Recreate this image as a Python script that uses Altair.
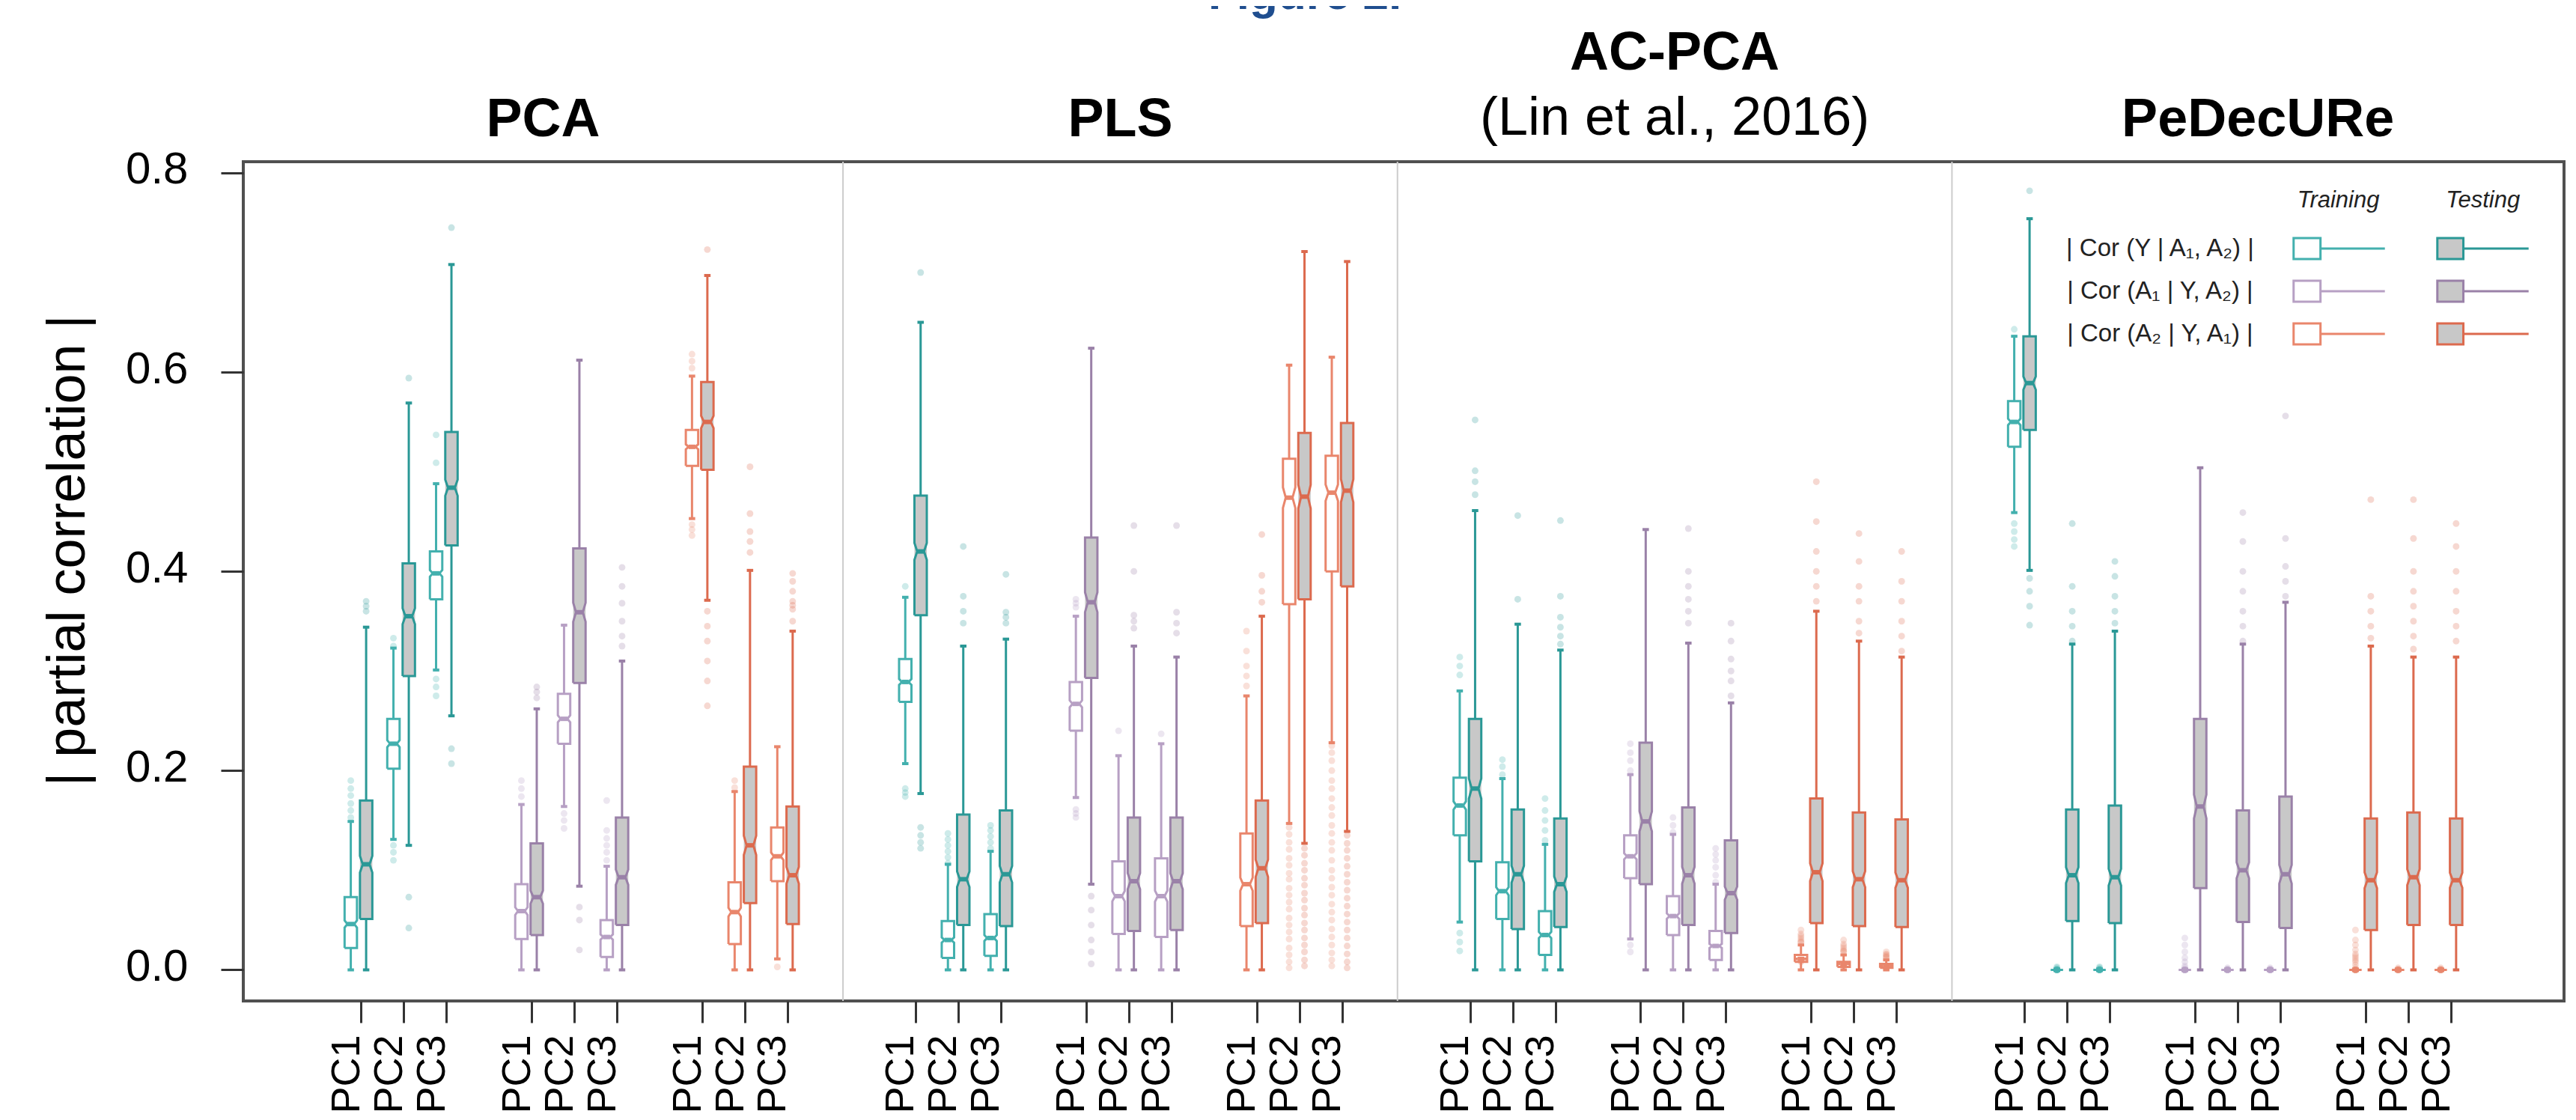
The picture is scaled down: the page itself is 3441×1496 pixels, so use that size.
import math
import altair as alt
import pandas as pd

# ---------------- data ----------------
METHODS = ["PCA", "PLS", "AC-PCA", "PeDecURe"]
SUBTITLES = ["", "", "(Lin et al., 2016)", ""]
COMPONENTS = ["PC1", "PC2", "PC3"]
GROUP_LABELS = ["| Cor (Y | A₁, A₂) |", "| Cor (A₁ | Y, A₂) |", "| Cor (A₂ | Y, A₁) |"]
SPLITS = ["Training", "Testing"]
Y_TICKS = [0.0, 0.2, 0.4, 0.6, 0.8]

# each row: lower whisker, Q1, median, Q3, upper whisker
# order: group1 PC1..PC3, group2 PC1..PC3, group3 PC1..PC3
PCA_TRAIN = [
    [0.000, 0.022, 0.046, 0.073, 0.149], [0.131, 0.202, 0.227, 0.252, 0.323], [0.301, 0.372, 0.398, 0.420, 0.488],
    [0.000, 0.031, 0.059, 0.086, 0.166], [0.164, 0.227, 0.252, 0.277, 0.346], [0.000, 0.013, 0.033, 0.050, 0.104],
    [0.453, 0.506, 0.525, 0.542, 0.596], [0.000, 0.026, 0.058, 0.088, 0.179], [0.011, 0.089, 0.114, 0.143, 0.224],
]
PCA_TEST = [
    [0.000, 0.051, 0.106, 0.170, 0.344], [0.125, 0.295, 0.355, 0.408, 0.569], [0.255, 0.426, 0.484, 0.540, 0.708],
    [0.000, 0.035, 0.073, 0.127, 0.262], [0.084, 0.288, 0.359, 0.423, 0.612], [0.000, 0.045, 0.093, 0.153, 0.310],
    [0.371, 0.502, 0.550, 0.590, 0.697], [0.000, 0.067, 0.125, 0.204, 0.401], [0.000, 0.046, 0.095, 0.164, 0.340],
]
PLS_TRAIN = [
    [0.207, 0.269, 0.289, 0.312, 0.374], [0.000, 0.012, 0.030, 0.049, 0.106], [0.000, 0.014, 0.032, 0.056, 0.119],
    [0.173, 0.240, 0.267, 0.289, 0.355], [0.000, 0.036, 0.074, 0.109, 0.215], [0.000, 0.033, 0.074, 0.112, 0.227],
    [0.000, 0.044, 0.086, 0.137, 0.275], [0.147, 0.367, 0.474, 0.513, 0.607], [0.228, 0.400, 0.479, 0.516, 0.615],
]
PLS_TEST = [
    [0.177, 0.356, 0.420, 0.476, 0.650], [0.000, 0.045, 0.091, 0.156, 0.325], [0.000, 0.044, 0.096, 0.160, 0.332],
    [0.086, 0.293, 0.369, 0.434, 0.624], [0.000, 0.039, 0.089, 0.153, 0.325], [0.000, 0.040, 0.089, 0.153, 0.314],
    [0.000, 0.047, 0.102, 0.170, 0.355], [0.127, 0.372, 0.475, 0.539, 0.721], [0.139, 0.385, 0.481, 0.549, 0.711],
]
AC_TRAIN = [
    [0.048, 0.135, 0.165, 0.193, 0.280], [0.000, 0.051, 0.079, 0.108, 0.192], [0.000, 0.015, 0.035, 0.059, 0.126],
    [0.031, 0.092, 0.114, 0.135, 0.196], [0.000, 0.035, 0.054, 0.074, 0.136], [0.000, 0.010, 0.024, 0.039, 0.086],
    [0.000, 0.008, 0.011, 0.015, 0.025], [0.000, 0.003, 0.006, 0.008, 0.015], [0.000, 0.002, 0.004, 0.006, 0.010],
]
AC_TEST = [
    [0.000, 0.109, 0.182, 0.252, 0.461], [0.000, 0.041, 0.096, 0.161, 0.347], [0.000, 0.043, 0.086, 0.152, 0.321],
    [0.000, 0.086, 0.149, 0.228, 0.442], [0.000, 0.045, 0.095, 0.163, 0.328], [0.000, 0.037, 0.077, 0.130, 0.268],
    [0.000, 0.047, 0.098, 0.172, 0.360], [0.000, 0.044, 0.091, 0.158, 0.330], [0.000, 0.043, 0.090, 0.151, 0.314],
]
PED_TRAIN = [
    [0.459, 0.525, 0.550, 0.571, 0.636], [0.0, 0.0, 0.0, 0.0, 0.0], [0.0, 0.0, 0.0, 0.0, 0.0],
    [0.0, 0.0, 0.0, 0.0, 0.0], [0.0, 0.0, 0.0, 0.0, 0.0], [0.0, 0.0, 0.0, 0.0, 0.0],
    [0.0, 0.0, 0.0, 0.0, 0.0], [0.0, 0.0, 0.0, 0.0, 0.0], [0.0, 0.0, 0.0, 0.0, 0.0],
]
PED_TEST = [
    [0.401, 0.542, 0.589, 0.636, 0.754], [0.000, 0.049, 0.095, 0.161, 0.327], [0.000, 0.047, 0.093, 0.165, 0.340],
    [0.000, 0.082, 0.164, 0.252, 0.504], [0.000, 0.048, 0.100, 0.160, 0.327], [0.000, 0.042, 0.096, 0.174, 0.369],
    [0.000, 0.040, 0.090, 0.152, 0.325], [0.000, 0.045, 0.093, 0.158, 0.314], [0.000, 0.045, 0.090, 0.152, 0.314],
]

# outlying points
PCA_TRAIN_OUT = [
    [0.153, 0.160, 0.167, 0.175, 0.182, 0.190], [0.325, 0.333, 0.125, 0.118, 0.110], [0.509, 0.537, 0.292, 0.284, 0.275],
    [0.174, 0.182, 0.190], [0.157, 0.150, 0.142], [0.110, 0.118, 0.125, 0.132, 0.140, 0.170],
    [0.604, 0.611, 0.618, 0.447, 0.442, 0.436], [0.183, 0.190], [0.003],
]
PCA_TEST_OUT = [
    [0.360, 0.365, 0.370], [0.594, 0.073, 0.042], [0.745, 0.222, 0.207],
    [0.273, 0.279, 0.284], [0.063, 0.050, 0.020], [0.325, 0.335, 0.350, 0.368, 0.385, 0.404],
    [0.723, 0.360, 0.345, 0.330, 0.310, 0.290, 0.265], [0.419, 0.430, 0.440, 0.458, 0.505],
    [0.350, 0.362, 0.366, 0.370, 0.380, 0.390, 0.398],
]
PLS_TRAIN_OUT = [
    [0.385, 0.182, 0.178, 0.174], [0.107, 0.113, 0.119, 0.125, 0.131, 0.137], [0.122, 0.128, 0.134, 0.140, 0.145],
    [0.364, 0.368, 0.372, 0.161, 0.157, 0.153], [0.240], [0.237],
    [0.285, 0.295, 0.305, 0.320, 0.340],
    [0.143, 0.136, 0.128, 0.121, 0.112, 0.105, 0.097, 0.091, 0.082, 0.075, 0.068, 0.061, 0.052, 0.045,
     0.038, 0.031, 0.022, 0.015, 0.008, 0.002],
    [0.225, 0.218, 0.210, 0.200, 0.190, 0.182, 0.172, 0.163, 0.155, 0.145, 0.137, 0.128, 0.120, 0.110,
     0.100, 0.092, 0.083, 0.075, 0.066, 0.058, 0.050, 0.041, 0.033, 0.025, 0.017, 0.010, 0.004],
]
PLS_TEST_OUT = [
    [0.700, 0.143, 0.135, 0.128, 0.122], [0.348, 0.360, 0.375, 0.425], [0.348, 0.354, 0.359, 0.397],
    [0.074, 0.060, 0.045, 0.030, 0.018, 0.006], [0.343, 0.350, 0.356, 0.400, 0.446], [0.338, 0.348, 0.359, 0.446],
    [0.369, 0.380, 0.396, 0.437],
    [0.122, 0.115, 0.107, 0.100, 0.092, 0.085, 0.077, 0.070, 0.062, 0.055, 0.047, 0.040, 0.032, 0.025,
     0.018, 0.010, 0.004],
    [0.135, 0.127, 0.120, 0.112, 0.104, 0.096, 0.088, 0.080, 0.072, 0.064, 0.056, 0.048, 0.040, 0.032,
     0.024, 0.016, 0.008, 0.002],
]
AC_TRAIN_OUT = [
    [0.296, 0.305, 0.314, 0.037, 0.028, 0.019], [0.196, 0.204, 0.211], [0.130, 0.140, 0.150, 0.160, 0.172],
    [0.200, 0.210, 0.218, 0.227, 0.025, 0.018], [0.138, 0.145, 0.153], [0.088, 0.095, 0.103, 0.110, 0.116, 0.122],
    [0.028, 0.028, 0.030, 0.032, 0.034, 0.036, 0.040, 0.012, 0.011, 0.010, 0.009, 0.008],
    [0.018, 0.019, 0.020, 0.022, 0.024, 0.026, 0.030, 0.006, 0.005, 0.004],
    [0.012, 0.013, 0.014, 0.015, 0.016, 0.018, 0.004, 0.003, 0.002],
]
AC_TEST_OUT = [
    [0.477, 0.490, 0.501, 0.552], [0.372, 0.456], [0.327, 0.335, 0.344, 0.354, 0.375, 0.451],
    [], [0.348, 0.360, 0.372, 0.385, 0.400, 0.443], [0.275, 0.290, 0.300, 0.312, 0.330, 0.348],
    [0.370, 0.385, 0.400, 0.420, 0.450, 0.490], [0.338, 0.350, 0.370, 0.385, 0.410, 0.438],
    [0.320, 0.335, 0.350, 0.370, 0.390, 0.420],
]
PED_TRAIN_OUT = [
    [0.643, 0.448, 0.440, 0.432, 0.425],
    [0.0, 0.0, 0.0, 0.0, 0.0, 0.0, 0.0, 0.001, 0.002, 0.003],
    [0.0, 0.0, 0.0, 0.0, 0.0, 0.0, 0.0, 0.001, 0.002, 0.003],
    [0.0, 0.0, 0.0, 0.0, 0.0, 0.0, 0.0, 0.002, 0.004, 0.008, 0.012, 0.018, 0.025, 0.032],
    [0.0, 0.0, 0.0, 0.0, 0.0, 0.0, 0.0, 0.001, 0.002],
    [0.0, 0.0, 0.0, 0.0, 0.0, 0.0, 0.0, 0.001, 0.002],
    [0.0, 0.0, 0.0, 0.0, 0.0, 0.0, 0.0, 0.002, 0.005, 0.008, 0.010, 0.012, 0.014, 0.016, 0.020, 0.025, 0.030, 0.040],
    [0.0, 0.0, 0.0, 0.0, 0.0, 0.0, 0.0, 0.001, 0.002],
    [0.0, 0.0, 0.0, 0.0, 0.0, 0.0, 0.0, 0.001, 0.002],
]
PED_TEST_OUT = [
    [0.782, 0.393, 0.380, 0.365, 0.346], [0.330, 0.345, 0.360, 0.385, 0.448], [0.348, 0.360, 0.375, 0.395, 0.410],
    [], [0.330, 0.345, 0.360, 0.380, 0.400, 0.430, 0.459], [0.375, 0.390, 0.405, 0.433, 0.556],
    [0.333, 0.345, 0.360, 0.375, 0.472], [0.322, 0.335, 0.350, 0.365, 0.380, 0.400, 0.433, 0.472],
    [0.330, 0.345, 0.360, 0.380, 0.400, 0.425, 0.448],
]

STATS = {
    ("PCA", "Training"): (PCA_TRAIN, PCA_TRAIN_OUT), ("PCA", "Testing"): (PCA_TEST, PCA_TEST_OUT),
    ("PLS", "Training"): (PLS_TRAIN, PLS_TRAIN_OUT), ("PLS", "Testing"): (PLS_TEST, PLS_TEST_OUT),
    ("AC-PCA", "Training"): (AC_TRAIN, AC_TRAIN_OUT), ("AC-PCA", "Testing"): (AC_TEST, AC_TEST_OUT),
    ("PeDecURe", "Training"): (PED_TRAIN, PED_TRAIN_OUT), ("PeDecURe", "Testing"): (PED_TEST, PED_TEST_OUT),
}

# ---------------- styling ----------------
TRAIN_COL = ["#43b0ae", "#b7a0c4", "#e9866c"]
TEST_COL = ["#2a9896", "#9a81a8", "#dc6a4e"]
GRAY = "#c8c8c8"
FONT = "Liberation Sans"
HALF = 0.145
OFFSET = {"Training": -0.24, "Testing": 0.12}
N_SIM = 500
X_DOM = [-2.76, 51.65]
Y_DOM = [-0.0312, 0.8112]
SEPS = [11.3, 24.3, 37.3]
W, H = 3100, 1121

XS = alt.Scale(domain=X_DOM, nice=False, zero=False)
YS = alt.Scale(domain=Y_DOM, nice=False, zero=False)

rect_rows, poly_rows, seg_rows, staple_rows, med_rows, out_rows = [], [], [], [], [], []
TICKS = []
for p, m in enumerate(METHODS):
    for g in range(3):
        for k in range(3):
            TICKS.append(13 * p + 4 * g + k)
    for s in SPLITS:
        stats, outs = STATS[(m, s)]
        for g in range(3):
            for k in range(3):
                i = 3 * g + k
                lw, q1, med, q3, uw = stats[i]
                cx = 13 * p + 4 * g + k + OFFSET[s]
                col = TRAIN_COL[g] if s == "Training" else TEST_COL[g]
                fill = "#ffffff" if s == "Training" else GRAY
                bid = f"{m}|{g}|{k}|{s}"
                n = min(1.58 * (q3 - q1) / math.sqrt(N_SIM), med - q1, q3 - med)
                w, wn = HALF, HALF * 0.55
                rect_rows.append(dict(x=cx - w, x2=cx + w, y=q1, y2=q3, fill=fill))
                pts = [(cx - w, q1), (cx + w, q1), (cx + w, med - n), (cx + wn, med), (cx + w, med + n),
                       (cx + w, q3), (cx - w, q3), (cx - w, med + n), (cx - wn, med), (cx - w, med - n),
                       (cx - w, q1)]
                for j, (px, py) in enumerate(pts):
                    poly_rows.append(dict(id=bid, o=j, x=px, y=py, color=col))
                seg_rows.append(dict(x=cx, y=lw, y2=q1, color=col))
                seg_rows.append(dict(x=cx, y=q3, y2=uw, color=col))
                for e in (lw, uw):
                    staple_rows.append(dict(x=cx - 0.075, x2=cx + 0.075, y=e, color=col))
                med_rows.append(dict(x=cx - wn, x2=cx + wn, y=med, color=col))
                for v in outs[i]:
                    out_rows.append(dict(x=cx, y=v, color=col))

C = lambda f: alt.Color(f, scale=None)
X = lambda f: alt.X(f, scale=XS)
Y = lambda f: alt.Y(f, scale=YS)

whiskers = alt.Chart(pd.DataFrame(seg_rows)).mark_rule(strokeWidth=3).encode(
    x=alt.X("x:Q", scale=XS, title="",
            axis=alt.Axis(values=TICKS, labelExpr="'PC' + ((round(datum.value) % 13) % 4 + 1)",
                          labelAngle=270, labelAlign="right", labelBaseline="alphabetic",
                          labelPadding=16, labelOffset=-3, tickSize=29, labelFontSize=54,
                          labelFlush=False, labelOverlap=False, labelBound=False)),
    y=alt.Y("y:Q", scale=YS, title="| partial correlation |",
            axis=alt.Axis(values=Y_TICKS, format=".1f", tickSize=30, labelFontSize=60, labelPadding=44,
                          labelOffset=-4, labelFlush=False, labelOverlap=False,
                          titleFontSize=72, titleAngle=270, titleX=-235, titleY=519,
                          titleAlign="center", titleBaseline="middle", titleFontWeight="normal")),
    y2="y2:Q",
    color=C("color:N"),
)

seps = alt.Chart(pd.DataFrame({"x": SEPS})).mark_rule(color="#cccccc", strokeWidth=2).encode(
    x=X("x:Q"), y=alt.value(0), y2=alt.value(H))

points = alt.Chart(pd.DataFrame(out_rows)).mark_circle(size=80, opacity=0.26).encode(
    x=X("x:Q"), y=Y("y:Q"), color=C("color:N"))

staples = alt.Chart(pd.DataFrame(staple_rows)).mark_rule(strokeWidth=4).encode(
    x=X("x:Q"), x2="x2:Q", y=Y("y:Q"), color=C("color:N"))

box_fill = alt.Chart(pd.DataFrame(rect_rows)).mark_rect(opacity=1).encode(
    x=X("x:Q"), x2="x2:Q", y=Y("y:Q"), y2="y2:Q", fill=alt.Fill("fill:N", scale=None))

box_outline = alt.Chart(pd.DataFrame(poly_rows)).mark_line(strokeWidth=3, strokeJoin="miter").encode(
    x=X("x:Q"), y=Y("y:Q"), detail="id:N", order="o:Q", color=C("color:N"))

medians = alt.Chart(pd.DataFrame(med_rows)).mark_rule(strokeWidth=6).encode(
    x=X("x:Q"), x2="x2:Q", y=Y("y:Q"), color=C("color:N"))

# panel titles
bounds = [X_DOM[0]] + SEPS + [X_DOM[1]]
centers = [(bounds[i] + bounds[i + 1]) / 2 for i in range(4)]
title_y = [0.8368 if not SUBTITLES[i] else 0.9036 for i in range(4)]
titles_df = pd.DataFrame({"x": centers, "y": title_y, "t": METHODS})
sub_df = pd.DataFrame({"x": [centers[i] for i in range(4) if SUBTITLES[i]],
                       "y": [0.838 for i in range(4) if SUBTITLES[i]],
                       "t": [s for s in SUBTITLES if s]})
titles = alt.Chart(titles_df).mark_text(font=FONT, fontSize=72, fontWeight="bold", align="center",
                                        baseline="alphabetic", color="#000000").encode(
    x=X("x:Q"), y=Y("y:Q"), text="t:N")
subtitles = alt.Chart(sub_df).mark_text(font=FONT, fontSize=72, align="center",
                                        baseline="alphabetic", color="#000000").encode(
    x=X("x:Q"), y=Y("y:Q"), text="t:N")

fig_df = pd.DataFrame({"x": [22.13], "y": [0.9645], "t": ["Figure 2."]})
figtext = alt.Chart(fig_df).mark_text(font=FONT, fontSize=62, fontWeight="bold", align="center",
                                      baseline="alphabetic", color="#1f4e8f").encode(
    x=X("x:Q"), y=Y("y:Q"), text="t:N")

# legend (inside PeDecURe panel)
LEG_ROWS = [0.7240, 0.6812, 0.6384]
LEG_HEAD = 0.7721
LEG_HH = 0.0105
leg_box_rows, leg_line_rows = [], []
for g in range(3):
    for s, (b0, b1, l1) in {"Training": (45.31, 45.94, 47.45), "Testing": (48.68, 49.29, 50.82)}.items():
        col = TRAIN_COL[g] if s == "Training" else TEST_COL[g]
        leg_box_rows.append(dict(x=b0, x2=b1, y=LEG_ROWS[g] - LEG_HH, y2=LEG_ROWS[g] + LEG_HH, color=col,
                                 fill="#ffffff" if s == "Training" else GRAY))
        leg_line_rows.append(dict(x=b1, x2=l1, y=LEG_ROWS[g], color=col))
leg_lines = alt.Chart(pd.DataFrame(leg_line_rows)).mark_rule(strokeWidth=3).encode(
    x=X("x:Q"), x2="x2:Q", y=Y("y:Q"), color=C("color:N"))
leg_boxes = alt.Chart(pd.DataFrame(leg_box_rows)).mark_rect(strokeWidth=3).encode(
    x=X("x:Q"), x2="x2:Q", y=Y("y:Q"), y2="y2:Q",
    fill=alt.Fill("fill:N", scale=None), stroke=alt.Stroke("color:N", scale=None))
leg_labels = alt.Chart(pd.DataFrame({"x": [42.18] * 3, "y": LEG_ROWS, "t": GROUP_LABELS})).mark_text(
    font=FONT, fontSize=33, align="center", baseline="middle", color="#222222").encode(
    x=X("x:Q"), y=Y("y:Q"), text="t:N")
leg_heads = alt.Chart(pd.DataFrame({"x": [46.36, 49.75], "y": [LEG_HEAD] * 2, "t": SPLITS})).mark_text(
    font=FONT, fontSize=31, fontStyle="italic", align="center", baseline="middle", color="#222222").encode(
    x=X("x:Q"), y=Y("y:Q"), text="t:N")

chart = alt.layer(
    whiskers, seps, points, staples, box_fill, box_outline, medians, titles, subtitles, figtext,
    leg_lines, leg_boxes, leg_labels, leg_heads,
).properties(
    width=W, height=H,
    padding={"left": 317, "top": 208, "right": 8, "bottom": 151},
    autosize=alt.AutoSizeParams(type="none"),
    background="#ffffff",
).configure_view(
    stroke="#505050", strokeWidth=4,
).configure_axis(
    grid=False, domain=False, tickColor="#333333", tickWidth=3, labelColor="#000000",
    labelFont=FONT, titleFont=FONT, titleColor="#000000",
)

chart.save("out.html", embed_options={"renderer": "svg", "actions": False})
